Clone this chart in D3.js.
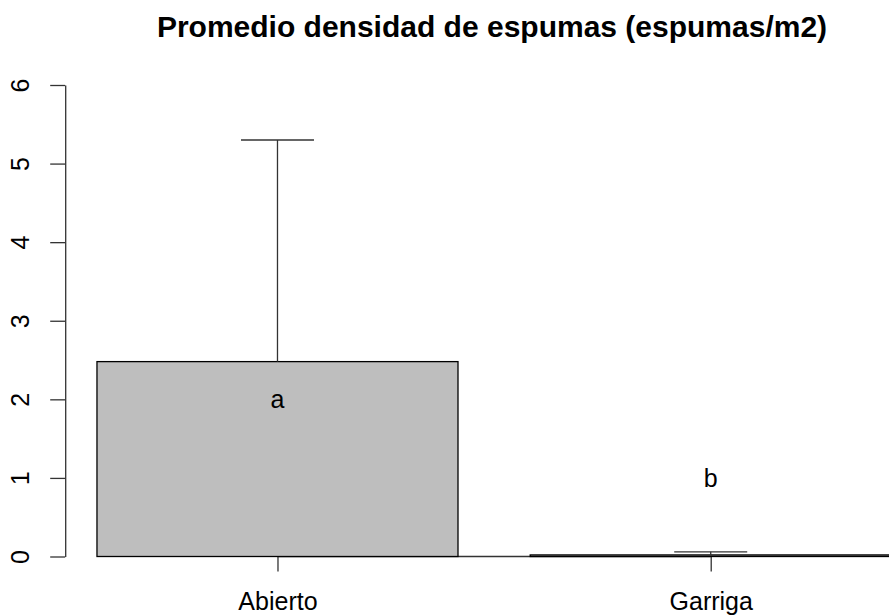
<!DOCTYPE html>
<html>
<head>
<meta charset="utf-8">
<script src="https://cdn.jsdelivr.net/npm/d3@7"></script>
<style>
  body { margin: 0; background: #fff; }
  text { font-family: "Liberation Sans", Arial, Helvetica, sans-serif; fill: #000; }
</style>
</head>
<body>
<div id="graph"></div>
<script>
// data
const categories = ["Abierto", "Garriga"];
const means = [2.48, 0.02];
const upper = [5.3, 0.06];
const letters = ["a", "b"];
const letterY = [2, 1];
const yTicks = [0, 1, 2, 3, 4, 5, 6];

const width = 889;
const height = 616;

const svg = d3
  .select("#graph")
  .append("svg")
  .attr("width", width)
  .attr("height", height);

// bar layout like R barplot: width 1, space 0.2
const barW = 1;
const space = 0.2;
const barLeft = categories.map(function(d, i) { return space + i * (barW + space); });
const barMid = barLeft.map(function(l) { return l + barW / 2; });

const xscale = d3.scaleLinear()
  .domain([0.112, 2.488])
  .range([65.2, 923]);

const yscale = d3.scaleLinear()
  .domain([0, 6])
  .range([556.5, 85]);

// title
svg.append("text")
  .attr("x", 492)
  .attr("y", 36.5)
  .attr("text-anchor", "middle")
  .attr("font-size", "30px")
  .attr("font-weight", "bold")
  .text("Promedio densidad de espumas (espumas/m2)");

// y axis
const yAxis = d3.axisLeft(yscale)
  .tickValues(yTicks)
  .tickSize(15)
  .tickSizeOuter(0)
  .tickFormat(d3.format("d"));

const gy = svg.append("g")
  .attr("transform", "translate(" + xscale.range()[0] + ",0)")
  .call(yAxis);

gy.select(".domain").attr("stroke", "#333").attr("stroke-width", 1.3);
gy.selectAll(".tick line").attr("stroke", "#333").attr("stroke-width", 1.3);
gy.selectAll(".tick text")
  .attr("x", 0)
  .attr("dy", 0)
  .attr("transform", "translate(-36,0) rotate(-90)")
  .attr("text-anchor", "middle")
  .attr("font-size", "25px")
  .attr("font-family", "Liberation Sans, Arial, sans-serif")
  .attr("fill", "#000");

// x axis, line between first and last tick like R axis()
const xAxis = d3.axisBottom(xscale)
  .tickValues(barMid)
  .tickSize(15)
  .tickSizeOuter(0)
  .tickFormat(function(d, i) { return categories[i]; });

const gx = svg.append("g")
  .attr("transform", "translate(0," + yscale(0) + ")")
  .call(xAxis);

gx.select(".domain")
  .attr("d", "M" + xscale(barMid[0]) + ",0H" + xscale(barMid[barMid.length - 1]))
  .attr("stroke", "#333")
  .attr("stroke-width", 1.3);
gx.selectAll(".tick line").attr("stroke", "#333").attr("stroke-width", 1.3);
gx.selectAll(".tick text")
  .attr("y", 0)
  .attr("dy", 0)
  .attr("transform", "translate(0,53.5)")
  .attr("font-size", "25px")
  .attr("font-family", "Liberation Sans, Arial, sans-serif")
  .attr("fill", "#000");

// bars
svg.selectAll(".bar")
  .data(means)
  .enter()
  .append("rect")
  .attr("class", "bar")
  .attr("x", function(d, i) { return xscale(barLeft[i]); })
  .attr("width", xscale(barW) - xscale(0))
  .attr("y", function(d) { return yscale(d); })
  .attr("height", function(d) { return yscale(0) - yscale(d); })
  .attr("fill", "#bebebe")
  .attr("stroke", "#000")
  .attr("stroke-width", 1.3);

// error bars (upper only)
const capHalf = 36.5;
const err = svg.selectAll(".err")
  .data(upper)
  .enter()
  .append("g")
  .attr("class", "err")
  .attr("stroke", "#333")
  .attr("stroke-width", 1.3);

err.append("line")
  .attr("x1", function(d, i) { return xscale(barMid[i]); })
  .attr("x2", function(d, i) { return xscale(barMid[i]); })
  .attr("y1", function(d, i) { return yscale(means[i]); })
  .attr("y2", function(d) { return yscale(d); });

err.append("line")
  .attr("x1", function(d, i) { return xscale(barMid[i]) - capHalf; })
  .attr("x2", function(d, i) { return xscale(barMid[i]) + capHalf; })
  .attr("y1", function(d) { return yscale(d); })
  .attr("y2", function(d) { return yscale(d); });

// letters
svg.selectAll(".letter")
  .data(letters)
  .enter()
  .append("text")
  .attr("class", "letter")
  .attr("x", function(d, i) { return xscale(barMid[i]); })
  .attr("y", function(d, i) { return yscale(letterY[i]); })
  .attr("dy", "0.35em")
  .attr("text-anchor", "middle")
  .attr("font-size", "25px")
  .text(function(d) { return d; });
</script>
</body>
</html>
